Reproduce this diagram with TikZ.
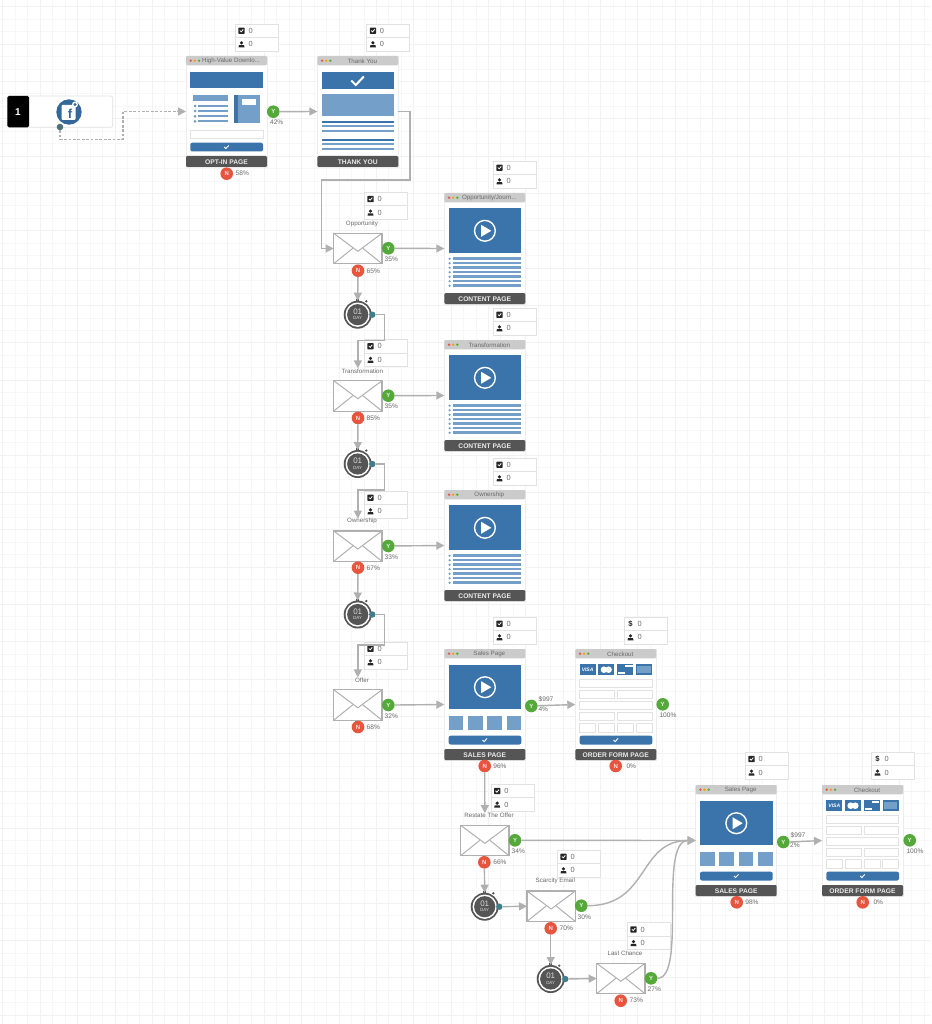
\documentclass[tikz,border=0pt]{standalone}
\usepackage{fontspec}
\setmainfont{Liberation Sans}
\usetikzlibrary{arrows.meta,calc}
\definecolor{fblue}{HTML}{3B74AB}
\definecolor{flight}{HTML}{739FC8}
\definecolor{ffoot}{HTML}{555555}
\definecolor{fbar}{HTML}{CBCBCB}
\definecolor{fgreen}{HTML}{55A93A}
\definecolor{fred}{HTML}{E8553F}
\definecolor{fline}{HTML}{B0B0B0}
\definecolor{ftext}{HTML}{6A6A6A}
\definecolor{fbox}{HTML}{E2E2E2}
\definecolor{fteal}{HTML}{3F7F8C}
\tikzset{
  x=1pt,y=-1pt,
  conn/.style={draw=fline,line width=1.4pt,-{Triangle[length=8pt,width=8pt,fill=fline]}},
  dashconn/.style={conn,dashed,dash pattern=on 2.8pt off 1.6pt},
  gridline/.style={draw=black!3,line width=.6pt},
  gridmajor/.style={draw=black!5,line width=.6pt},
  pagebox/.style={draw=black!7,fill=white,line width=.5pt,minimum width=81pt,minimum height=111pt,inner sep=0,outer sep=0,anchor=north west},
  statrow/.style={draw=fbox,fill=white,line width=.7pt,minimum width=43pt,minimum height=13.5pt,inner sep=0,outer sep=0,anchor=north west},
  statnum/.style={text=ftext,inner sep=0,font=\fontsize{7.4}{8}\selectfont},
  small/.style={text=ftext,inner sep=0,font=\fontsize{6.6}{8}\selectfont},
  tiny/.style={text=ftext,inner sep=0,font=\fontsize{6.2}{7}\selectfont},
  ynode/.style={circle,fill=fgreen,minimum size=12.6pt,inner sep=0,outer sep=0,text=white!85!fgreen,font=\bfseries\fontsize{6}{6}\selectfont},
  nnode/.style={circle,fill=fred,minimum size=12.6pt,inner sep=0,outer sep=0,text=white!85!fred,font=\bfseries\fontsize{6}{6}\selectfont},
  envelope/.style={draw=fline,fill=white,line width=1.2pt,minimum width=48.3pt,minimum height=30.4pt,inner sep=0,outer sep=0,anchor=north west},
  foottext/.style={text=white!92!black,inner sep=0,font=\bfseries\fontsize{6.7}{8}\selectfont},
  bluebit/.style={fill=fblue,draw=none},
  lightbit/.style={fill=flight,draw=none},
  field/.style={draw=fbox,fill=white,line width=.7pt},
}
\newcommand{\checkicon}[1]{%
  \fill[black!85,rounded corners=.6pt] ($(#1.west)+(3.1,-3.1)$) rectangle ($(#1.west)+(9.4,3.1)$);
  \draw[white,line width=.8pt] ($(#1.west)+(4.6,-.2)$) -- ($(#1.west)+(5.9,1.1)$) -- ($(#1.west)+(8,-1.4)$);}
\newcommand{\dollaricon}[2]{\node[inner sep=0,text=black!85,font=\bfseries\fontsize{7.6}{8}\selectfont] (#2) at ($(#1.west)+(6.2,0)$) {\$};}
\newcommand{\personicon}[1]{%
  \fill[black!85] ($(#1.west)+(6.2,-1.4)$) circle (1.8pt);
  \fill[black!85] ($(#1.west)+(3.2,3.1)$) -- ($(#1.west)+(3.7,.8)$) -- ($(#1.west)+(8.7,.8)$) -- ($(#1.west)+(9.2,3.1)$) -- cycle;}
\newcommand{\statbox}[4]{%
  \node[statrow] (#1a) at (#2,#3) {};
  \node[statrow] (#1b) at (#1a.south west) {};
  \ifx c#4\checkicon{#1a}\else\dollaricon{#1a}{#1d}\fi
  \personicon{#1b}
  \node[statnum] (#1v) at ($(#1a.west)+(15.3,0)$) {0};
  \node[statnum] (#1w) at ($(#1b.west)+(15.3,0)$) {0};}
\newcommand{\pagenode}[6]{%
  \node[pagebox] (#1) at (#2,#3) {};
  \begin{scope}[shift={(#2,#3)}]
    \fill[fbar,rounded corners=1.2pt] (0,0) rectangle (81,9.3);
    \fill[fred] (4.7,4.7) circle (1.3pt);
    \fill[orange!80!yellow] (8.8,4.7) circle (1.3pt);
    \fill[fgreen] (13,4.7) circle (1.3pt);
    \fill[ffoot,rounded corners=1.2pt] (0,100) rectangle (81,111);
    #6
  \end{scope}
  \node[tiny] (#1t) at ($(#1.north west)+(45,4.8)$) {#4};
  \node[foottext] (#1f) at ($(#1.north west)+(40.5,105.7)$) {#5};}
\newcommand{\btncheck}{%
  \fill[bluebit,rounded corners=2pt] (4.3,86.7) rectangle (77,95.5);
  \draw[white,line width=.9pt] (38.2,91) -- (39.8,92.6) -- (42.8,89.4);}
\newcommand{\optincontent}{%
  \fill[bluebit] (4.3,16) rectangle (77,32);
  \fill[lightbit] (7.3,39.3) rectangle (42.3,45);
  \foreach \r in {50,55,60.3,65.3}{\fill[lightbit] (9,\r) circle (1.5pt);\fill[lightbit] (12.3,\r-1.1) rectangle (42.3,\r+1.1);}
  \fill[lightbit] (48.3,39.3) rectangle (73.7,66.7);
  \fill[bluebit] (48.3,39.3) rectangle (52,66.7);
  \fill[white] (55.7,43.3) rectangle (70,49);
  \draw[field] (4.3,74) rectangle (77,82.3);
  \btncheck}
\newcommand{\thankcontent}{%
  \fill[bluebit] (4.3,16) rectangle (76.7,32.7);
  \draw[white,line width=2pt] (34,24.5) -- (38.5,29) -- (46.5,20.5);
  \fill[lightbit] (4.3,38) rectangle (76.7,60);
  \fill[bluebit] (4.3,65) rectangle (76.7,67);
  \fill[lightbit] (4.3,69) rectangle (76.7,71);
  \fill[lightbit] (4.3,74) rectangle (76.7,76);
  \fill[bluebit] (4.3,82.7) rectangle (76.7,84.7);
  \fill[lightbit] (4.3,87) rectangle (76.7,89);
  \fill[lightbit] (4.3,91.7) rectangle (76.7,93.7);}
\newcommand{\playicon}[1]{%
  \draw[white,line width=1.4pt] (40.6,#1) circle (10.4pt);
  \fill[white] (36.8,#1-6) -- (47,#1) -- (36.8,#1+6) -- cycle;}
\newcommand{\contentcontent}{%
  \fill[bluebit] (4.3,15.3) rectangle (77,60.3);
  \playicon{37.8}
  \foreach \r in {65.7,70.2,74.7,79.2,83.7,88.2,92.7}{\fill[lightbit] (5.3,\r) circle (1.2pt);\fill[lightbit] (9,\r-1.25) rectangle (77,\r+1.25);}}
\newcommand{\salescontent}{%
  \fill[bluebit] (4.3,16) rectangle (77,60.3);
  \playicon{38.2}
  \foreach \a/\b in {4.3/19,23.7/38.3,43/57.7,62.3/77}{\fill[lightbit] (\a,67) rectangle (\b,81);}
  \btncheck}
\newcommand{\checkoutcontent}{%
  \fill[bluebit] (4.3,15.3) rectangle (20.3,26);
  \node[inner sep=0,text=white,font=\bfseries\itshape\fontsize{5}{6}\selectfont] (visa) at (12.3,20.7) {VISA};
  \fill[bluebit] (23,15.3) rectangle (39,26);
  \fill[white] (28.7,20.7) circle (3.3pt); \fill[white] (33.3,20.7) circle (3.3pt);
  \fill[bluebit] (42,15.3) rectangle (58,26);
  \fill[white] (42.6,23) rectangle (50,25.4); \fill[white] (50,15.9) rectangle (57.4,18.2);
  \fill[bluebit] (60.7,15.3) rectangle (76.7,26);
  \fill[lightbit] (62,17) rectangle (75.4,24.3);
  \foreach \a/\b/\c/\d in {4.3/30/76.7/38.7,4.3/41/39/49.7,42/41/76.7/49.7,4.3/52.3/76.7/60.7,4.3/63.3/39/71.7,42/63.3/76.7/71.7,4.3/74.3/20.3/83,23/74.3/39/83,42/74.3/58/83,60.7/74.3/76.7/83}
    {\draw[field] (\a,\b) rectangle (\c,\d);}
  \btncheck}
\newcommand{\envnode}[3]{%
  \node[envelope] (#1) at (#2,#3) {};
  \draw[fline,line width=1pt] (#1.north west) -- ($(#1.north)+(0,18)$) -- (#1.north east);
  \draw[fline,line width=1pt] (#1.south west) -- ($(#1.north)+(-5,15)$);
  \draw[fline,line width=1pt] (#1.south east) -- ($(#1.north)+(5,15)$);}
\newcommand{\timernode}[3]{%
  \fill[ffoot] (#2-1.6,#3-15.6) rectangle (#2+1.6,#3-12);
  \fill[ffoot] (#2+8.6,#3-13.4) circle (1.3pt);
  \node[circle,fill=ffoot,minimum size=28pt,inner sep=0,outer sep=0] (#1) at (#2,#3) {};
  \fill[white] (#2,#3) circle (12.2pt);
  \fill[ffoot] (#2,#3) circle (10.6pt);
  \node[inner sep=0,text=white!85!black,font=\fontsize{8}{8}\selectfont] (#1x) at (#2,#3-2.8) {01};
  \node[inner sep=0,text=white!85!black,font=\fontsize{4.5}{5}\selectfont] (#1y) at (#2,#3+3.6) {DAY};
  \node[circle,fill=fteal,minimum size=6.4pt,inner sep=0,outer sep=0] (#1dot) at (#2+14.6,#3) {};}
\begin{document}
\begin{tikzpicture}
\useasboundingbox (0,0) rectangle (931,1024);
\fill[white] (0,0) rectangle (931,1024);
\foreach \i in {0,...,74}{\draw[gridline] ({2.75+12.45*\i},0) -- ({2.75+12.45*\i},1024);}
\foreach \i in {0,...,82}{\draw[gridline] (0,{6.6+12.45*\i}) -- (931,{6.6+12.45*\i});}
\foreach \i in {0,3,...,72}{\draw[gridmajor] ({2.75+12.45*\i},0) -- ({2.75+12.45*\i},1024);}
\foreach \i in {0,3,...,81}{\draw[gridmajor] (0,{6.6+12.45*\i}) -- (931,{6.6+12.45*\i});}

\node[draw=black!12,fill=white,rounded corners=2pt,minimum width=105.4pt,minimum height=31.3pt,inner sep=0,outer sep=0,anchor=north west,line width=.6pt] (src) at (7.3,96) {};
\fill[black,rounded corners=1.5pt] (7.3,96) rectangle (29,127.3);
\node[inner sep=0,text=white,font=\bfseries\fontsize{10}{11}\selectfont] (srcn) at (18,112) {1};
\node[circle,fill=fblue!90!black,minimum size=25.4pt,inner sep=0,outer sep=0] (fb) at (69,112) {};
\fill[white,rounded corners=1pt] (61.5,105) rectangle (75.5,120);
\node[inner sep=0,text=fblue!90!black,font=\bfseries\fontsize{13}{13}\selectfont] (fbf) at (70,113.5) {f};
\fill[white] (75,104.5) circle (3pt);
\fill[fblue!90!black] (75,104.5) circle (1.6pt);
\node[circle,fill=fteal!60!black!80,minimum size=6.6pt,inner sep=0,outer sep=0] (srcdot) at (60,127) {};

\pagenode{optin}{186}{56}{\hspace*{0pt}High-Value Downlo...}{OPT-IN PAGE}{\optincontent}
\pagenode{thank}{317.3}{56}{Thank You}{THANK YOU}{\thankcontent}
\pagenode{c1}{444.3}{193}{Opportunity/Journ...}{CONTENT PAGE}{\contentcontent}
\pagenode{c2}{444.3}{340}{Transformation}{CONTENT PAGE}{\contentcontent}
\pagenode{c3}{444.3}{490}{Ownership}{CONTENT PAGE}{\contentcontent}
\pagenode{s1}{444.3}{649}{Sales Page}{SALES PAGE}{\salescontent}
\pagenode{o1}{575.3}{649}{Checkout}{ORDER FORM PAGE}{\checkoutcontent}
\pagenode{s2}{695.7}{785}{Sales Page}{SALES PAGE}{\salescontent}
\pagenode{o2}{822}{785}{Checkout}{ORDER FORM PAGE}{\checkoutcontent}

\statbox{bA}{235.3}{24}{c}
\statbox{bB}{366.7}{24}{c}
\statbox{bC}{364.3}{192.3}{c}
\statbox{bD}{493.3}{161}{c}
\statbox{bE}{493.3}{308}{c}
\statbox{bF}{364.3}{339.5}{c}
\statbox{bG}{493.3}{458}{c}
\statbox{bH}{364.3}{491}{c}
\statbox{bI}{493.3}{617}{c}
\statbox{bJ}{624.3}{617}{d}
\statbox{bK}{364.3}{642}{c}
\statbox{bL}{491}{784.3}{c}
\statbox{bM}{557.3}{850}{c}
\statbox{bN}{627.3}{922.7}{c}
\statbox{bO}{745.3}{752.3}{c}
\statbox{bP}{871.3}{752.3}{d}

\envnode{e1}{333.7}{233.3}
\envnode{e2}{333.7}{380.7}
\envnode{e3}{333.7}{531}
\envnode{e4}{333.7}{689.8}
\envnode{e5}{460.7}{825.3}
\envnode{e6}{527}{891}
\envnode{e7}{596.7}{963.3}

\node[tiny] (l1) at (362,223.7) {Opportunity};
\node[tiny] (l2) at (362.3,371) {Transformation};
\node[tiny] (l3) at (362,521) {Ownership};
\node[tiny] (l4) at (362,680) {Offer};
\node[tiny] (l5) at (489,815.7) {Restate The Offer};
\node[tiny] (l6) at (555.3,881.3) {Scarcity Email};
\node[tiny] (l7) at (625,953.7) {Last Chance};

\timernode{t1}{357.7}{314.7}
\timernode{t2}{357.7}{464}
\timernode{t3}{357.7}{614.5}
\timernode{t4}{484.7}{906.7}
\timernode{t5}{550.7}{979}

\node[ynode] (yA) at (273.3,111.7) {Y};
\node[small] (pyA) at (276.7,122.7) {42\%};
\node[nnode] (nA) at (226.7,173.7) {N};
\node[small] (pnA) at (242.3,173.5) {58\%};
\node[ynode] (y1) at (388.3,248.3) {Y};
\node[small] (py1) at (391.3,259.3) {35\%};
\node[nnode] (n1) at (358,270.7) {N};
\node[small] (pn1) at (373.3,271) {65\%};
\node[ynode] (y2) at (388.3,395.7) {Y};
\node[small] (py2) at (391.3,406.7) {35\%};
\node[nnode] (n2) at (358,418) {N};
\node[small] (pn2) at (373.3,418.3) {85\%};
\node[ynode] (y3) at (388.3,546) {Y};
\node[small] (py3) at (391.3,557) {33\%};
\node[nnode] (n3) at (358,567.7) {N};
\node[small] (pn3) at (373.3,568) {67\%};
\node[ynode] (y4) at (388.3,705) {Y};
\node[small] (py4) at (391.3,716) {32\%};
\node[nnode] (n4) at (358,727) {N};
\node[small] (pn4) at (373.3,727.3) {68\%};
\node[ynode] (yS1) at (531.3,706) {Y};
\node[small] (dS1) at (546,699.3) {\$997};
\node[small] (pyS1) at (543.3,709.3) {4\%};
\node[nnode] (nS1) at (484.7,766) {N};
\node[small] (pnS1) at (500,766) {96\%};
\node[ynode] (yO1) at (662.7,704.3) {Y};
\node[small] (pyO1) at (668,715.3) {100\%};
\node[nnode] (nO1) at (615.7,766) {N};
\node[small] (pnO1) at (631.3,766) {0\%};
\node[ynode] (y5) at (515,840.3) {Y};
\node[small] (py5) at (518.3,851.7) {34\%};
\node[nnode] (n5) at (484.3,862.3) {N};
\node[small] (pn5) at (500,862.3) {66\%};
\node[ynode] (y6) at (581.3,905.7) {Y};
\node[small] (py6) at (584.3,917) {30\%};
\node[nnode] (n6) at (550.7,928.3) {N};
\node[small] (pn6) at (566.3,928.3) {70\%};
\node[ynode] (y7) at (651,978.3) {Y};
\node[small] (py7) at (654.3,989.3) {27\%};
\node[nnode] (n7) at (620.7,1000.7) {N};
\node[small] (pn7) at (636.3,1000.7) {73\%};
\node[ynode] (yS2) at (783.3,842) {Y};
\node[small] (dS2) at (798,835.3) {\$997};
\node[small] (pyS2) at (795,845) {2\%};
\node[nnode] (nS2) at (736.7,902.3) {N};
\node[small] (pnS2) at (752,902.3) {98\%};
\node[ynode] (yO2) at (909.7,840.3) {Y};
\node[small] (pyO2) at (915,851.3) {100\%};
\node[nnode] (nO2) at (862.7,902.3) {N};
\node[small] (pnO2) at (878.3,902.3) {0\%};

\coordinate (k0) at (123,139.3);
\coordinate (k1) at (410,180);
\coordinate (k2) at (321.3,180);
\coordinate (k3) at (384.3,340.3);
\coordinate (k4) at (384.3,490);
\coordinate (k5) at (384.3,645);

\draw[dashconn] (srcdot.south) |- (k0) |- (optin.west);
\draw[conn] (yA) -- (thank.west);
\draw[conn] (thank.east) -| (k1) -- (k2) |- (e1.west);
\draw[conn] (y1) -- (c1.west);
\draw[conn] (y2) -- (c2.west);
\draw[conn] (y3) -- (c3.west);
\draw[conn] (y4.east) -- (s1.west);
\draw[conn] (n1) -- (t1.north);
\draw[conn] (n2) -- (t2.north);
\draw[conn] (n3) -- (t3.north);
\draw[conn,shorten >=12.4pt] (t1dot.east) -| (k3) -| (e2.north);
\draw[conn,shorten >=12.4pt] (t2dot.east) -| (k4) -| (e3.north);
\draw[conn,shorten >=12.4pt] (t3dot.east) -| (k5) -| (e4.north);
\draw[conn] (yS1) -- (o1.west);
\draw[conn,shorten >=12.2pt] (nS1) -- (e5.north);
\draw[conn] (n5) -- (t4.north);
\draw[conn] (t4dot) -- (e6.west);
\draw[conn] (n6) -- (t5.north);
\draw[conn] (t5dot) -- (e7.west);
\draw[conn] (y5) -- (s2.west);
\draw[conn] (y6.east) .. controls +(62,0) and +(-58,0) .. (s2.west);
\draw[conn] (y7.east) .. controls +(30,0) and +(-38,0) .. (s2.west);
\draw[conn] (yS2.east) -- (o2.west);
\end{tikzpicture}
\end{document}
